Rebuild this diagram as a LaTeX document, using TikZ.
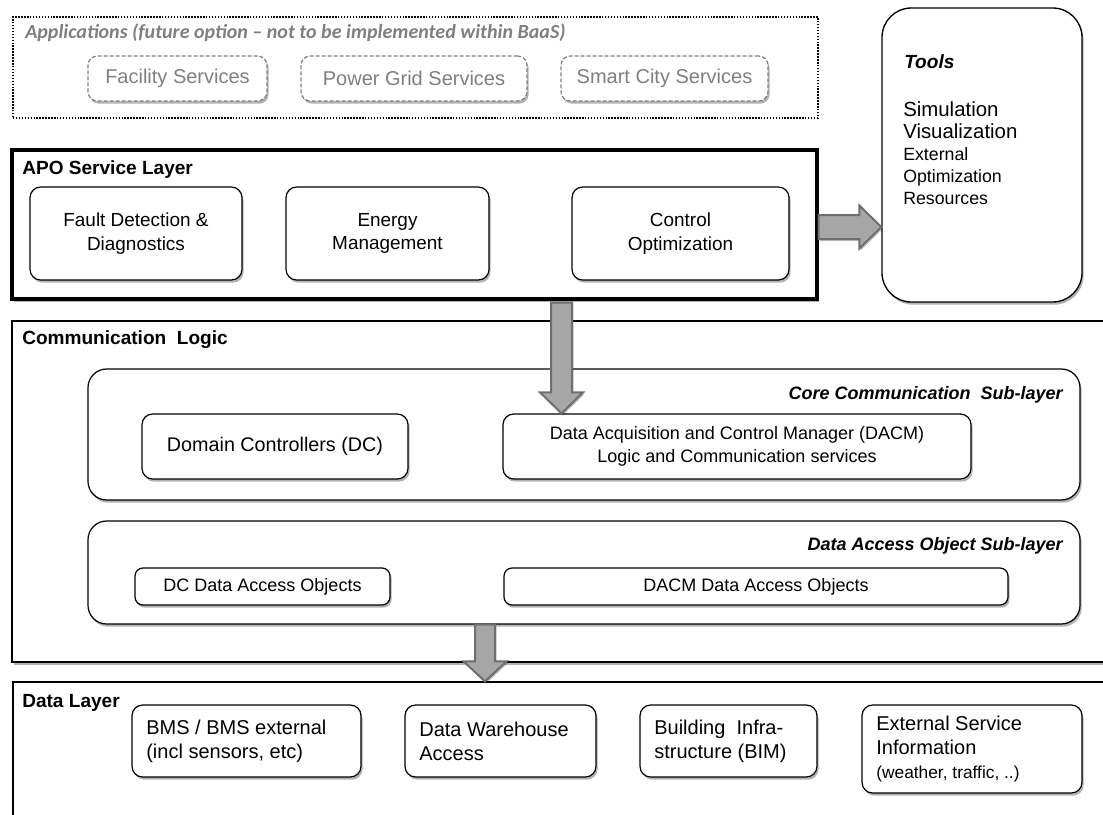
\documentclass[tikz,border=0pt]{standalone}
\usepackage{fontspec}
\setmainfont{Liberation Sans}
\newfontfamily\calib{Carlito}
\usetikzlibrary{shadows,fit,calc}
\definecolor{appgray}{HTML}{7F7F7F}
\definecolor{arrfill}{HTML}{A6A6A6}
\definecolor{arrdraw}{HTML}{6E6E6E}
\begin{document}
\begin{tikzpicture}[x=0.75pt,y=-0.75pt,
  shad/.style={drop shadow={shadow xshift=1.2pt,shadow yshift=-2pt,opacity=0.3,fill=black}},
  txt/.style={font=\fontsize{13.5}{17}\selectfont},
  txtl/.style={font=\fontsize{15}{18}\selectfont},
  txtm/.style={font=\fontsize{14.2}{17.5}\selectfont},
  box/.style={draw, line width=0.9pt, rounded corners=8pt, fill=white, shad, inner sep=0pt, align=center, txt},
  appbox/.style={draw=appgray, dash pattern=on 3pt off 1.5pt, line width=0.9pt, rounded corners=7pt, fill=white, shad, inner sep=0pt},
  layer/.style={draw, line width=0.9pt, fill=white, shad, inner sep=0pt},
  sublayer/.style={draw, line width=0.9pt, rounded corners=14pt, fill=white, shad, inner sep=0pt},
  ltitle/.style={anchor=west, inner sep=0pt, font=\bfseries\fontsize{14.3}{16}\selectfont},
  stitle/.style={anchor=east, inner sep=0pt, font=\bfseries\itshape\fontsize{13.5}{16}\selectfont},
  toolbig/.style={anchor=base west, inner sep=0pt, font=\fontsize{15.3}{17}\selectfont},
  toolsmall/.style={anchor=base west, inner sep=0pt, font=\fontsize{13.3}{16}\selectfont},
  barrow/.style={draw=arrdraw, fill=arrfill, line width=1.5pt, miter limit=4,
     drop shadow={shadow xshift=1pt,shadow yshift=-1.5pt,opacity=0.25,fill=black}}
]
\useasboundingbox (0,0) rectangle (1103,814);
\clip (0,0) rectangle (1103,814);

% ---------- Applications ----------
\node[draw, dash pattern=on 1.1pt off 1.1pt, line width=1.1pt, fit={(13,17) (818,118)}, inner sep=0pt] (apps) {};
\node[anchor=west, inner sep=0pt, text=appgray, font=\calib\bfseries\itshape\fontsize{15}{17}\selectfont] (appstitle) at (25,33) {Applications (future option – not to be implemented within BaaS)};
\node[appbox, fit={(88,56) (267,101)}] (fac) {};
\node[text=appgray, txtl] (fact) at (fac.center) {Facility Services};
\node[appbox, fit={(301,56) (527,101)}] (pgs) {};
\node[text=appgray, txtl] (pgst) at (pgs.center) {Power Grid Services};
\node[appbox, fit={(561,56) (768,101)}] (scs) {};
\node[text=appgray, txtl] (scst) at (scs.center) {Smart City Services};

% ---------- Tools ----------
\node[draw, line width=1pt, rounded corners=22pt, fill=white, shad, fit={(882,8) (1082,302)}, inner sep=0pt] (tools) {};
\node[anchor=west, inner sep=0pt, font=\bfseries\itshape\fontsize{14.3}{16}\selectfont] (toolst) at (904,62) {Tools};
\node[toolbig] (tl1) at (903,116) {Simulation};
\node[toolbig] (tl2) at (903,138.5) {Visualization};
\node[toolsmall] (tl3) at (903,160.5) {External};
\node[toolsmall] (tl4) at (903,182.5) {Optimization};
\node[toolsmall] (tl5) at (903,204.5) {Resources};

% ---------- Communication Logic & Data Layer ----------
\node[layer, fit={(12,321) (1115,662)}] (comm) {};
\node[ltitle] (commt) at (22,340) {Communication\ \ Logic};
\node[layer, fit={(13,682) (1115,840)}] (data) {};
\node[ltitle] (datat) at (22,703) {Data Layer};

% ---------- APO Service Layer ----------
\node[draw, line width=2.4pt, fill=white, shad, fit={(12,150) (817,299)}, inner sep=0pt] (apo) {};
\node[ltitle] (apot) at (22,170) {APO Service Layer};
\node[box, fit={(30,187) (242,280)}] (fdd) {};
\node[txtm, align=center] (fddt) at (fdd.center) {Fault Detection \&\\Diagnostics};
\node[box, fit={(286,187) (489,280)}] (em) {};
\node[txtm, align=center] (emt) at (em.center) {Energy\\Management};
\node[box, fit={(572,187) (789,280)}] (co) {};
\node[txtm, align=center] (cot) at (co.center) {Control\\Optimization};

% ---------- Core Communication Sub-layer ----------
\node[sublayer, fit={(88,369) (1080,500)}] (core) {};
\node[stitle] (coret) at (1063,395) {Core Communication\ \ Sub-layer};
\node[box, fit={(142,414) (408,479)}] (dc) {};
\node[font=\fontsize{14.8}{17}\selectfont] (dct) at (dc.center) {Domain Controllers (DC)};
\node[box, fit={(503,414) (971,479)}] (dacm) {};
\node[txt, align=center] (dacmt) at (dacm.center) {Data Acquisition and Control Manager (DACM)\\Logic and Communication services};

% ---------- Data Access Object Sub-layer ----------
\node[sublayer, fit={(88,521) (1080,624)}] (dao) {};
\node[stitle] (daot) at (1063,546) {Data Access Object Sub-layer};
\node[box, rounded corners=6pt, fit={(135,568) (390,605)}] (dcdao) {};
\node[txt] (dcdaot) at (dcdao.center) {DC Data Access Objects};
\node[box, rounded corners=6pt, fit={(504,568) (1008,605)}] (dacmdao) {};
\node[txt] (dacmdaot) at (dacmdao.center) {DACM Data Access Objects};

% ---------- Data Layer boxes ----------
\node[box, fit={(132,705) (361,777)}] (bms) {};
\node[txtl, align=left, anchor=west, inner sep=0pt] (bmst) at ([xshift=11pt]bms.west) {BMS / BMS external\\(incl sensors, etc)};
\node[box, fit={(405,705) (596,777)}] (dw) {};
\node[txtl, align=left, anchor=west, inner sep=0pt] (dwt) at ([xshift=11pt]dw.west) {Data Warehouse\\Access};
\node[box, fit={(640,705) (817,777)}] (bim) {};
\node[txtl, align=left, anchor=west, inner sep=0pt] (bimt) at ([xshift=11pt]bim.west) {Building\ \ Infra-\\structure (BIM)};
\node[box, fit={(862,705) (1082,793)}] (esi) {};
\node[txtl, align=left, anchor=west, inner sep=0pt] (esit) at ([xshift=11pt]esi.west) {External Service\\Information\\{\fontsize{13}{15}\selectfont (weather, traffic, ..)}};

% ---------- Block arrows ----------
% APO -> Tools
\coordinate (a0s) at (apo.east |- 0,227);
\coordinate (a0e) at (tools.west |- 0,227);
\draw[barrow] ($(a0s)+(0,-12)$) -- ($(a0e)+(-22,-12)$) -- ($(a0e)+(-22,-21.5)$) -- (a0e)
  -- ($(a0e)+(-22,21.5)$) -- ($(a0e)+(-22,12)$) -- ($(a0s)+(0,12)$) -- cycle;
% APO -> DACM
\coordinate (a1s) at ($(apo.south -| 561.5,0)+(0,2)$);
\coordinate (a1e) at (dacm.north -| 561.5,0);
\draw[barrow] ($(a1s)+(-10.5,0)$) -- ($(a1e)+(-10.5,-21)$) -- ($(a1e)+(-21.5,-21)$) -- (a1e)
  -- ($(a1e)+(21.5,-21)$) -- ($(a1e)+(10.5,-21)$) -- ($(a1s)+(10.5,0)$) -- cycle;
% DAO sub-layer -> Data Layer
\coordinate (a2s) at (dao.south -| 485,0);
\coordinate (a2e) at (data.north -| 485,0);
\draw[barrow] ($(a2s)+(-10,0)$) -- ($(a2e)+(-10,-20)$) -- ($(a2e)+(-21.5,-20)$) -- (a2e)
  -- ($(a2e)+(21.5,-20)$) -- ($(a2e)+(10,-20)$) -- ($(a2s)+(10,0)$) -- cycle;
\end{tikzpicture}
\end{document}
